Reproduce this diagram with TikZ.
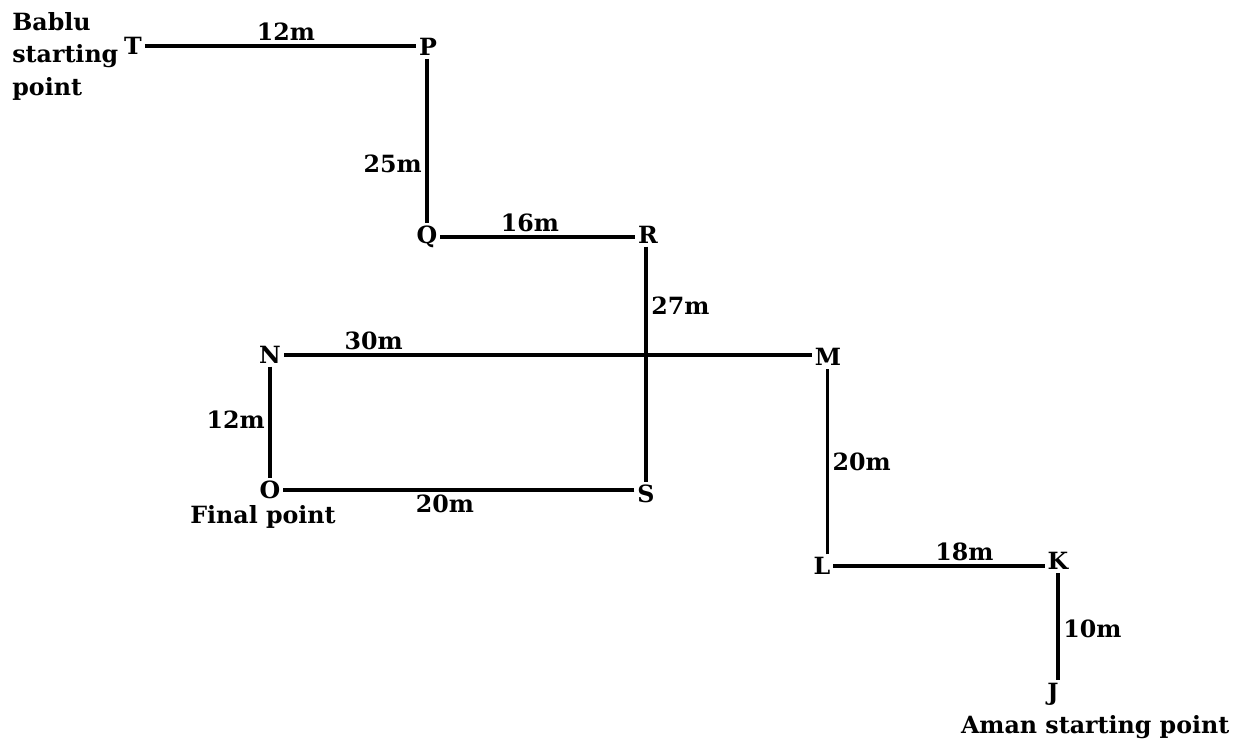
\documentclass[tikz,border=0pt]{standalone}
\usepackage{fontspec}
\setmainfont{DejaVu Serif}
\usepackage{tikz}
\usetikzlibrary{positioning}
\tikzset{%
	pt/.style    = {inner sep=1.5pt, font=\bfseries\fontsize{13.5}{16}\selectfont}, % Point letter
	dist/.style  = {inner sep=2pt, font=\bfseries\fontsize{13.5}{16}\selectfont}, % Distance
	note/.style  = {inner sep=0pt, align=left, font=\bfseries\fontsize{13.5}{18.5}\selectfont},
	walk/.style  = {line width=2pt},
}
\begin{document}
\begin{tikzpicture}[x=0.02cm,y=0.02cm]
	\useasboundingbox (0,0) rectangle (1236,745);
	% points
	\node [pt] (T) at (133,699) {T};
	\node [pt] (P) at (428,698) {P};
	\node [pt] (Q) at (427,508) {Q};
	\node [pt] (R) at (648,510) {R};
	\node [pt] (N) at (270,390) {N};
	\node [pt] (M) at (828,388) {M};
	\node [pt] (O) at (270,255) {O};
	\node [pt] (S) at (646,251) {S};
	\node [pt] (L) at (822,179) {L};
	\node [pt] (K) at (1058,184) {K};
	\node [pt] (J) at (1053,51) {J};
	% notes
	\node [note, anchor=north west] (bablu) at (12,733) {Bablu\\starting\\point};
	\node [note, below=2pt of O, xshift=-4pt] (final) {Final point};
	\node [note, below=4pt of J, xshift=24pt] (aman) {Aman starting point};
	% Bablu
	\draw[walk] (T.east) -- node[dist, above, pos=0.52] {12m} (T.east -| P.west);
	\draw[walk] (P.south -| Q) -- node[dist, left, pos=0.64] {25m} (Q.north);
	\draw[walk] (Q.east) -- node[dist, above, pos=0.46] {16m} (Q.east -| R.west);
	\draw[walk] (R.south -| S) -- node[dist, right, pos=0.25] {27m} (S.north);
	\draw[walk] (S.west |- O.east) -- node[dist, below, pos=0.54] {20m} (O.east);
	% Aman
	\draw[walk] (J.north -| K) -- node[dist, right, pos=0.48] {10m} (K.south);
	\draw[walk] (K.west |- L.east) -- node[dist, above, pos=0.38] {18m} (L.east);
	\draw[walk] (L.north) ++(3pt,0) coordinate (l) -- node[dist, right, pos=0.5] {20m} (l |- M.south);
	\draw[walk] (M.west |- N.east) -- node[dist, above, pos=0.83] {30m} (N.east);
	\draw[walk] (N.south) -- node[dist, left, pos=0.48] {12m} (O.north);
\end{tikzpicture}
\end{document}
